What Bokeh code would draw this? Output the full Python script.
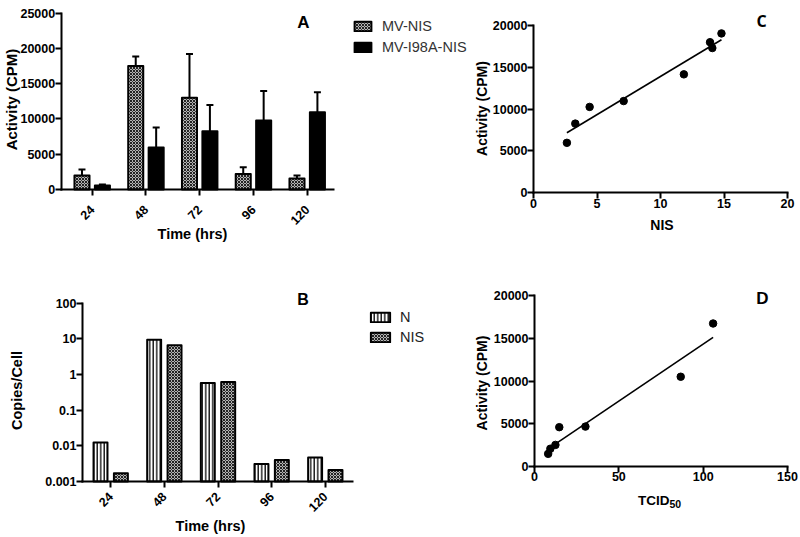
import math
import numpy as np
from bokeh.plotting import figure
from bokeh.models import (ColumnDataSource, Range1d, FixedTicker, Label,
                          Legend, LegendItem, CustomJSTickFormatter)
from bokeh.layouts import row, column
from bokeh.embed import file_html
from bokeh.resources import INLINE

# ---------------- data ----------------
times = ["24", "48", "72", "96", "120"]
mvnis_activity = [2000, 17500, 13000, 2200, 1550]
mvnis_sem = [850, 1350, 6200, 950, 450]
i98a_activity = [550, 5950, 8250, 9800, 10950]
i98a_sem = [150, 2850, 3750, 4150, 2850]

n_copies = [0.0124, 9.4, 0.58, 0.0031, 0.0047]
nis_copies = [0.0017, 6.6, 0.62, 0.0040, 0.0021]

c_nis = [2.63, 3.29, 4.42, 7.1, 11.84, 13.9, 14.08, 14.8]
c_activity = [5950, 8250, 10250, 10950, 14150, 18000, 17300, 19050]

d_tcid50 = [8.1, 9.4, 12.4, 14.7, 30.2, 86.7, 105.9]
d_activity = [1450, 2050, 2500, 4580, 4650, 10500, 16750]

activity_ticks = [0, 5000, 10000, 15000, 20000, 25000]
copies_ticks = [0.001, 0.01, 0.1, 1, 10, 100]
c_x_ticks = [0, 5, 10, 15, 20]
c_y_ticks = [0, 5000, 10000, 15000, 20000]
d_x_ticks = [0, 50, 100, 150]
d_y_ticks = [0, 5000, 10000, 15000, 20000]

# ---------------- style / layout ----------------
FONT = "Liberation Sans"
TICK_FS = "12.5px"
CHECK = dict(fill_color="#b4b4b4", hatch_pattern="diagonal_cross", hatch_scale=3,
             hatch_color="#222222", hatch_weight=1)
STRIPE = dict(fill_color="white", hatch_pattern="vertical_line", hatch_scale=3.5,
              hatch_color="black", hatch_weight=1.3)

# Each panel: figure origin/size (page px) and two anchor pairs (page px <-> data value)
GA = dict(ox=0, oy=0, W=471, H=256, xa=(91.7, 1, 306.7, 5), ya=(189, 0, 12.7, 25000), log=False)
GB = dict(ox=0, oy=256, W=471, H=280, xa=(110.2, 1, 324.8, 5), ya=(481, 0.001, 302.7, 100), log=True)
GC = dict(ox=471, oy=0, W=328, H=256, xa=(533, 0, 787, 20), ya=(192, 0, 25, 20000), log=False)
GD = dict(ox=471, oy=256, W=328, H=280, xa=(534, 0, 787, 150), ya=(465.7, 0, 295.3, 20000), log=False)


def px2x(g, px):
    p1, v1, p2, v2 = g["xa"]
    return v1 + (px - p1) * (v2 - v1) / (p2 - p1)


def py2y(g, py):
    p1, v1, p2, v2 = g["ya"]
    if g["log"]:
        a, b = math.log10(v1), math.log10(v2)
        return 10 ** (a + (py - p1) * (b - a) / (p2 - p1))
    return v1 + (py - p1) * (v2 - v1) / (p2 - p1)


def make_fig(g, yaxis_at, xaxis_at, xbounds, ybounds):
    p = figure(width=g["W"], height=g["H"],
               x_range=Range1d(px2x(g, g["ox"]), px2x(g, g["ox"] + g["W"])),
               y_range=Range1d(py2y(g, g["oy"] + g["H"]), py2y(g, g["oy"])),
               y_axis_type="log" if g["log"] else "linear",
               output_backend="svg", toolbar_location=None, title=None,
               min_border_left=0, min_border_right=0, min_border_top=0, min_border_bottom=0)
    p.xgrid.visible = False
    p.ygrid.visible = False
    p.outline_line_color = None
    p.background_fill_color = "white"
    p.border_fill_color = "white"
    for ax in p.axis:
        ax.axis_line_width = 2
        ax.axis_line_color = "black"
        ax.axis_line_cap = "square"
        ax.major_tick_line_width = 2
        ax.major_tick_line_color = "black"
        ax.major_tick_out = 6
        ax.major_tick_in = 0
        ax.minor_tick_line_color = None
        ax.major_label_text_font = FONT
        ax.major_label_text_font_style = "bold"
        ax.major_label_text_font_size = TICK_FS
        ax.major_label_text_color = "black"
        ax.major_label_standoff = 0
        ax.axis_label = None
    p.yaxis.fixed_location = yaxis_at
    p.xaxis.fixed_location = xaxis_at
    p.xaxis.bounds = xbounds
    p.yaxis.bounds = ybounds
    return p


def add_text(p, g, text, px, py, size, angle=0.0, align="center",
             font=FONT, style="bold", color="black"):
    p.add_layout(Label(x=px2x(g, px), y=py2y(g, py), text=text, angle=angle,
                       text_align=align, text_baseline="middle", text_font=font,
                       text_font_style=style, text_font_size=size, text_color=color))


def make_legend(g, items, left_px, bottom_px, gw, gh, fs, color, standoff, spacing):
    leg = Legend(items=items, location=(left_px - g["ox"], g["oy"] + g["H"] - bottom_px))
    leg.glyph_width = gw
    leg.glyph_height = gh
    leg.label_height = gh
    leg.label_text_font = FONT
    leg.label_text_font_size = fs
    leg.label_text_color = color
    leg.label_standoff = standoff
    leg.spacing = spacing
    leg.padding = 0
    leg.margin = 0
    leg.border_line_color = None
    leg.background_fill_alpha = 0
    return leg


xpos = np.arange(1, len(times) + 1)
labels_map = {int(i): t for i, t in zip(xpos, times)}

# ---------------- panel A ----------------
a_left = px2x(GA, 60.7)
pa = make_fig(GA, a_left, 0, (a_left, px2x(GA, 333)), (0, 25000))
src_a = ColumnDataSource(dict(
    xl=xpos - 0.19, xr=xpos + 0.19,
    mv=mvnis_activity, mv_hi=np.add(mvnis_activity, mvnis_sem),
    i9=i98a_activity, i9_hi=np.add(i98a_activity, i98a_sem)))
cap = 0.065
pa.segment(x0="xl", y0="mv", x1="xl", y1="mv_hi", source=src_a, line_color="black", line_width=2)
pa.segment(x0="xr", y0="i9", x1="xr", y1="i9_hi", source=src_a, line_color="black", line_width=2)
src_cap = ColumnDataSource(dict(
    a0=xpos - 0.19 - cap, a1=xpos - 0.19 + cap, ay=np.add(mvnis_activity, mvnis_sem),
    b0=xpos + 0.19 - cap, b1=xpos + 0.19 + cap, by=np.add(i98a_activity, i98a_sem)))
pa.segment(x0="a0", y0="ay", x1="a1", y1="ay", source=src_cap, line_color="black", line_width=2)
pa.segment(x0="b0", y0="by", x1="b1", y1="by", source=src_cap, line_color="black", line_width=2)
r_mv = pa.vbar(x="xl", top="mv", bottom=0, width=0.28, source=src_a,
               line_color="black", line_width=2, line_join="round", **CHECK)
r_i9 = pa.vbar(x="xr", top="i9", bottom=0, width=0.28, source=src_a,
               fill_color="black", line_color="black", line_width=2, line_join="round")
pa.xaxis.ticker = FixedTicker(ticks=list(xpos))
pa.xaxis.major_label_overrides = labels_map
pa.xaxis.major_label_orientation = math.pi / 4
pa.xaxis.major_label_standoff = 12
pa.yaxis.ticker = FixedTicker(ticks=activity_ticks)

pa.add_layout(make_legend(GA, [LegendItem(label="MV-NIS", renderers=[r_mv]),
                               LegendItem(label="MV-I98A-NIS", renderers=[r_i9])],
                          352, 54.5, 21, 12, "14.5px", "#333333", 9, 5))

add_text(pa, GA, "A", 303, 22, "17px")
add_text(pa, GA, "Activity (CPM)", 10.5, 99, "15px", angle=math.pi / 2)
add_text(pa, GA, "Time (hrs)", 192, 233.5, "14.5px")

# ---------------- panel B ----------------
b_left = px2x(GB, 82)
pb = make_fig(GB, b_left, 0.001, (b_left, px2x(GB, 352)), (0.001, 100))
src_b = ColumnDataSource(dict(xl=xpos - 0.19, xr=xpos + 0.19, n=n_copies, nis=nis_copies))
r_n = pb.vbar(x="xl", top="n", bottom=0.001, width=0.26, source=src_b,
              line_color="black", line_width=2, line_join="round", **STRIPE)
r_nis = pb.vbar(x="xr", top="nis", bottom=0.001, width=0.26, source=src_b,
                line_color="black", line_width=2, line_join="round", **CHECK)
pb.xaxis.ticker = FixedTicker(ticks=list(xpos))
pb.xaxis.major_label_overrides = labels_map
pb.xaxis.major_label_orientation = math.pi / 4
pb.xaxis.major_label_standoff = 7
pb.yaxis.ticker = FixedTicker(ticks=copies_ticks, minor_ticks=[])
pb.yaxis.formatter = CustomJSTickFormatter(code="return String(tick);")

pb.add_layout(make_legend(GB, [LegendItem(label="N", renderers=[r_n]),
                               LegendItem(label="NIS", renderers=[r_nis])],
                          368, 344.5, 24, 12, "14.5px", "#222222", 8, 4))

add_text(pb, GB, "B", 302.5, 299, "16px")
add_text(pb, GB, "Copies/Cell", 16.5, 390, "14.5px", angle=math.pi / 2)
add_text(pb, GB, "Time (hrs)", 210, 525, "14.5px")

# ---------------- panel C ----------------
pc = make_fig(GC, 0, 0, (0, 20), (0, 20000))
kc, bc = np.polyfit(c_nis, c_activity, 1)
fx_c = np.array([min(c_nis), max(c_nis)])
pc.line(fx_c, kc * fx_c + bc, line_color="black", line_width=1.6)
pc.scatter(c_nis, c_activity, size=7.5, fill_color="black", line_color="black")
pc.xaxis.ticker = FixedTicker(ticks=c_x_ticks)
pc.yaxis.ticker = FixedTicker(ticks=c_y_ticks)
add_text(pc, GC, "C", 761, 20.5, "16px", font="Open Sans")
add_text(pc, GC, "Activity (CPM)", 481.5, 108, "14px", angle=math.pi / 2)
add_text(pc, GC, "NIS", 661.5, 224, "14px")

# ---------------- panel D ----------------
pd_ = make_fig(GD, 0, 0, (0, 150), (0, 20000))
kd, bd = np.polyfit(d_tcid50, d_activity, 1)
fx_d = np.array([min(d_tcid50), max(d_tcid50)])
pd_.line(fx_d, kd * fx_d + bd, line_color="black", line_width=1.6)
pd_.scatter(d_tcid50, d_activity, size=7.5, fill_color="black", line_color="black")
pd_.xaxis.ticker = FixedTicker(ticks=d_x_ticks)
pd_.yaxis.ticker = FixedTicker(ticks=d_y_ticks)
add_text(pd_, GD, "D", 762, 298, "17px")
add_text(pd_, GD, "Activity (CPM)", 481, 382.5, "14px", angle=math.pi / 2)
add_text(pd_, GD, "TCID", 669, 499.5, "13.5px", align="right")
add_text(pd_, GD, "50", 669, 503.5, "10.5px", align="left")

layout = row(column(pa, pb), column(pc, pd_))
open("out.html", "w").write(file_html(layout, INLINE))
